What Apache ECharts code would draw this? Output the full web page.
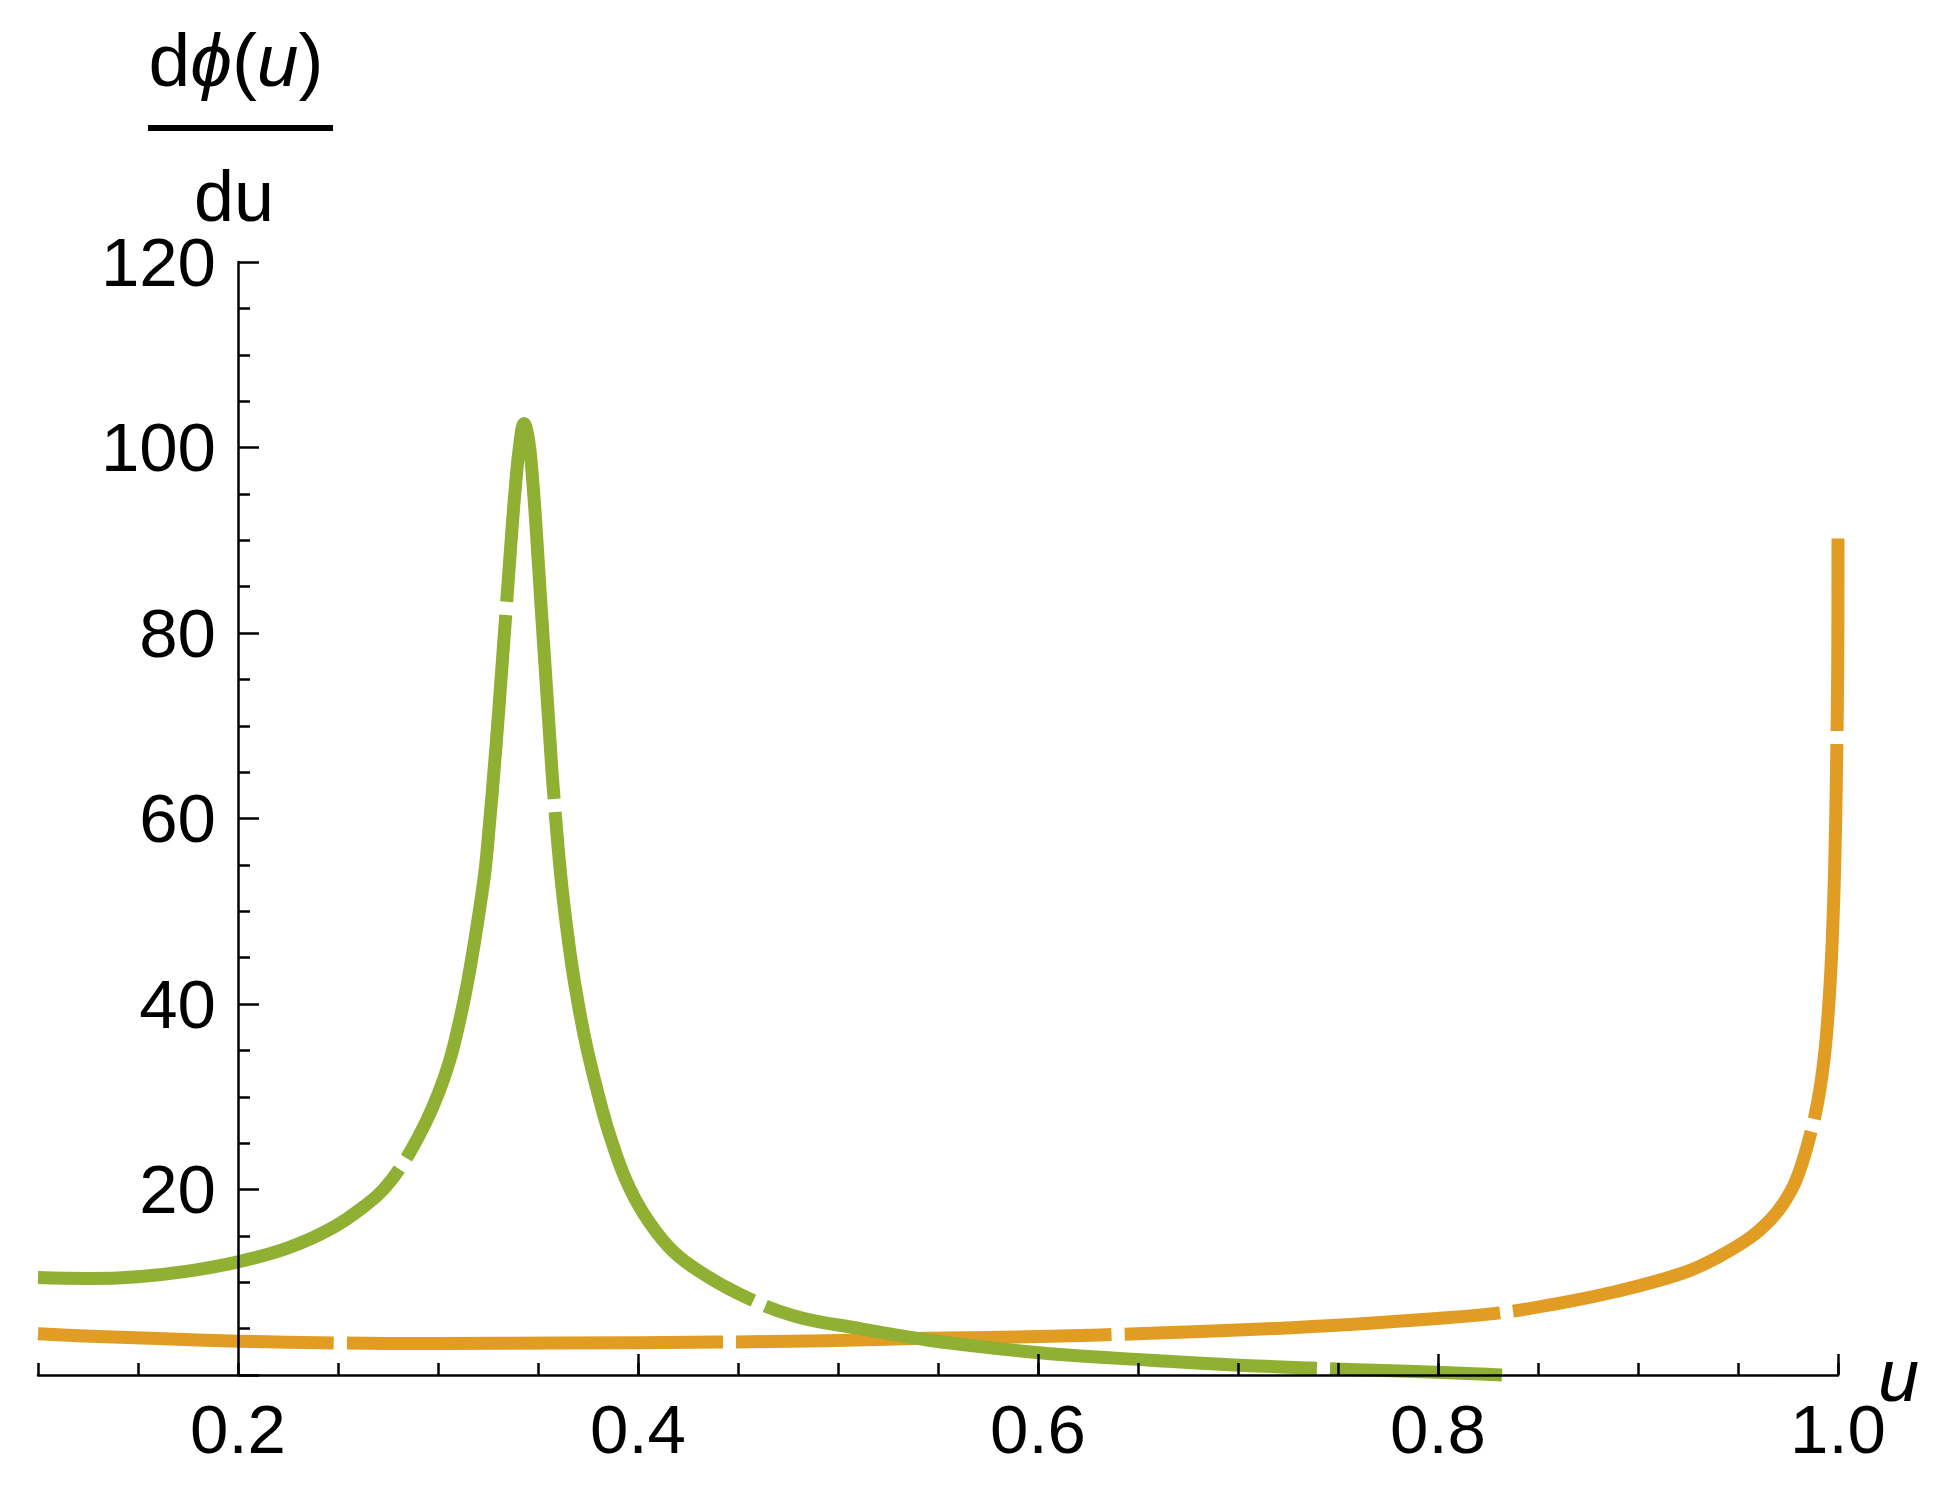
<!DOCTYPE html>
<html>
<head>
<meta charset="utf-8">
<script src="https://cdn.jsdelivr.net/npm/echarts@6/dist/echarts.min.js"></script>
<style>
html,body{margin:0;padding:0;background:#ffffff;}
#chart{width:1939px;height:1492px;}
</style>
</head>
<body>
<div id="chart"></div>
<script>
// ---- data ----
const greenU = [0.100,0.125,0.150,0.175,0.200,0.225,0.2475,0.265,0.2727,0.281,0.290,0.297,0.303,0.308,0.315,0.3227,0.325,0.329,0.3315,0.334,0.336,0.3385,0.3408,0.343,0.3455,0.3475,0.3493,0.3515,0.354,0.356,0.3575,0.3613,0.3645,0.3685,0.3743,0.3826,0.387,0.394,0.4025,0.415,0.4277,0.450,0.4777,0.511,0.544,0.5777,0.611,0.656,0.706,0.756,0.806,0.832];
const greenV = [10.5,10.4,10.6,11.2,12.2,13.7,15.9,18.5,20.0,22.3,25.6,28.7,32.0,35.6,42.6,53.0,57.6,67.8,75.0,82.3,88.3,95.3,100.2,102.6,100.5,96.0,90.5,83.0,74.9,68.3,63.6,54.0,48.0,42.0,35.4,28.2,25.1,21.0,17.5,13.9,11.6,8.8,6.4,5.0,3.8,2.9,2.2,1.6,1.0,0.6,0.25,0.0];

const orangeU = [0.100,0.130,0.160,0.200,0.250,0.300,0.360,0.440,0.494,0.544,0.606,0.656,0.706,0.756,0.806,0.831,0.856,0.889,0.9225,0.939,0.956,0.966,0.9727,0.979,0.985,0.990,0.9935,0.996,0.9975,0.9985,0.9993,0.9999,1.0];
const orangeV = [4.45,4.15,3.93,3.65,3.45,3.40,3.45,3.55,3.70,3.95,4.17,4.50,4.90,5.45,6.2,6.7,7.55,9.0,11.0,12.6,14.8,16.7,18.5,21.0,25.0,29.6,35.0,42.0,49.0,56.3,66.0,77.8,90.2];

const xTickLabels = [0.2, 0.4, 0.6, 0.8, 1.0];
const xMajorTicks = [0.4, 0.6, 0.8, 1.0];
const yTickLabels = [20, 40, 60, 80, 100, 120];

// ---- chart ----
const FONT = '"Liberation Sans", Arial, sans-serif';
const BLACK = '#000000';
const GREEN = '#8FB032';
const ORANGE = '#E19C24';

function pairs(us, vs) { return us.map((u, i) => [u, vs[i]]); }

const axisLineStyle = { color: BLACK, width: 2.5 };

const chart = echarts.init(document.getElementById('chart'), null, { renderer: 'svg' });
chart.setOption({
  animation: false,
  backgroundColor: '#ffffff',
  grid: { left: 38, right: 101, top: 262, bottom: 117, containLabel: false, outerBoundsMode: 'none' },
  xAxis: [
    {
      type: 'value', min: 0.1, max: 1.0, interval: 0.05, position: 'bottom', z: 10,
      axisLine: { show: true, onZero: false, lineStyle: axisLineStyle },
      axisTick: { show: true, inside: true, length: 12, lineStyle: axisLineStyle },
      axisLabel: { show: false },
      splitLine: { show: false },
      name: 'u', nameLocation: 'end', nameGap: 40,
      nameTextStyle: { fontFamily: FONT, fontStyle: 'italic', fontSize: 74, color: BLACK, verticalAlign: 'middle', align: 'left' }
    },
    {
      type: 'value', min: 0.1, max: 1.0, position: 'bottom', z: 10,
      axisLine: { show: false, onZero: false },
      axisTick: { show: true, inside: true, length: 21, customValues: xMajorTicks, lineStyle: axisLineStyle },
      axisLabel: { show: true, customValues: xTickLabels, margin: 20, fontFamily: FONT, fontSize: 69, color: BLACK,
                   formatter: v => Number(v).toFixed(1) },
      splitLine: { show: false }
    }
  ],
  yAxis: {
    type: 'value', min: 0, max: 120, interval: 20, position: 'left', offset: -200, z: 10,
    axisLine: { show: true, onZero: false, lineStyle: axisLineStyle },
    axisTick: { show: true, inside: true, length: 21, lineStyle: axisLineStyle },
    minorTick: { show: true, splitNumber: 4, length: 12, lineStyle: axisLineStyle },
    axisLabel: { margin: 22, fontFamily: FONT, fontSize: 69, color: BLACK,
                 formatter: v => (yTickLabels.indexOf(v) >= 0 ? String(v) : '') },
    splitLine: { show: false },
    minorSplitLine: { show: false }
  },
  graphic: [
    {
      type: 'text', x: 236, y: 60, z: 20,
      style: {
        text: '{n|d}{i|ϕ}{n|(}{i|u}{n|)}',
        rich: {
          n: { fontFamily: FONT, fontSize: 75, fill: BLACK },
          i: { fontFamily: FONT, fontSize: 75, fontStyle: 'italic', fill: BLACK }
        },
        textAlign: 'center', textVerticalAlign: 'middle'
      }
    },
    { type: 'rect', z: 20, shape: { x: 148, y: 125, width: 185, height: 6 }, style: { fill: BLACK } },
    {
      type: 'text', x: 234, y: 196, z: 20,
      style: { text: 'du', fontFamily: FONT, fontSize: 72, fill: BLACK, textAlign: 'center', textVerticalAlign: 'middle' }
    }
  ],
  series: [
    {
      type: 'line', xAxisIndex: 0, yAxisIndex: 0, data: pairs(orangeU, orangeV),
      showSymbol: false, symbol: 'none', clip: false, z: 2,
      smooth: 0.4,
      lineStyle: { color: ORANGE, width: 13, type: [376, 13], dashOffset: 80, cap: 'butt', join: 'round' }
    },
    {
      type: 'line', xAxisIndex: 0, yAxisIndex: 0, data: pairs(greenU, greenV),
      showSymbol: false, symbol: 'none', clip: false, z: 3,
      smooth: 0.4,
      lineStyle: { color: GREEN, width: 13, type: [557, 13], dashOffset: 165, cap: 'butt', join: 'round' }
    }
  ]
});
</script>
</body>
</html>
